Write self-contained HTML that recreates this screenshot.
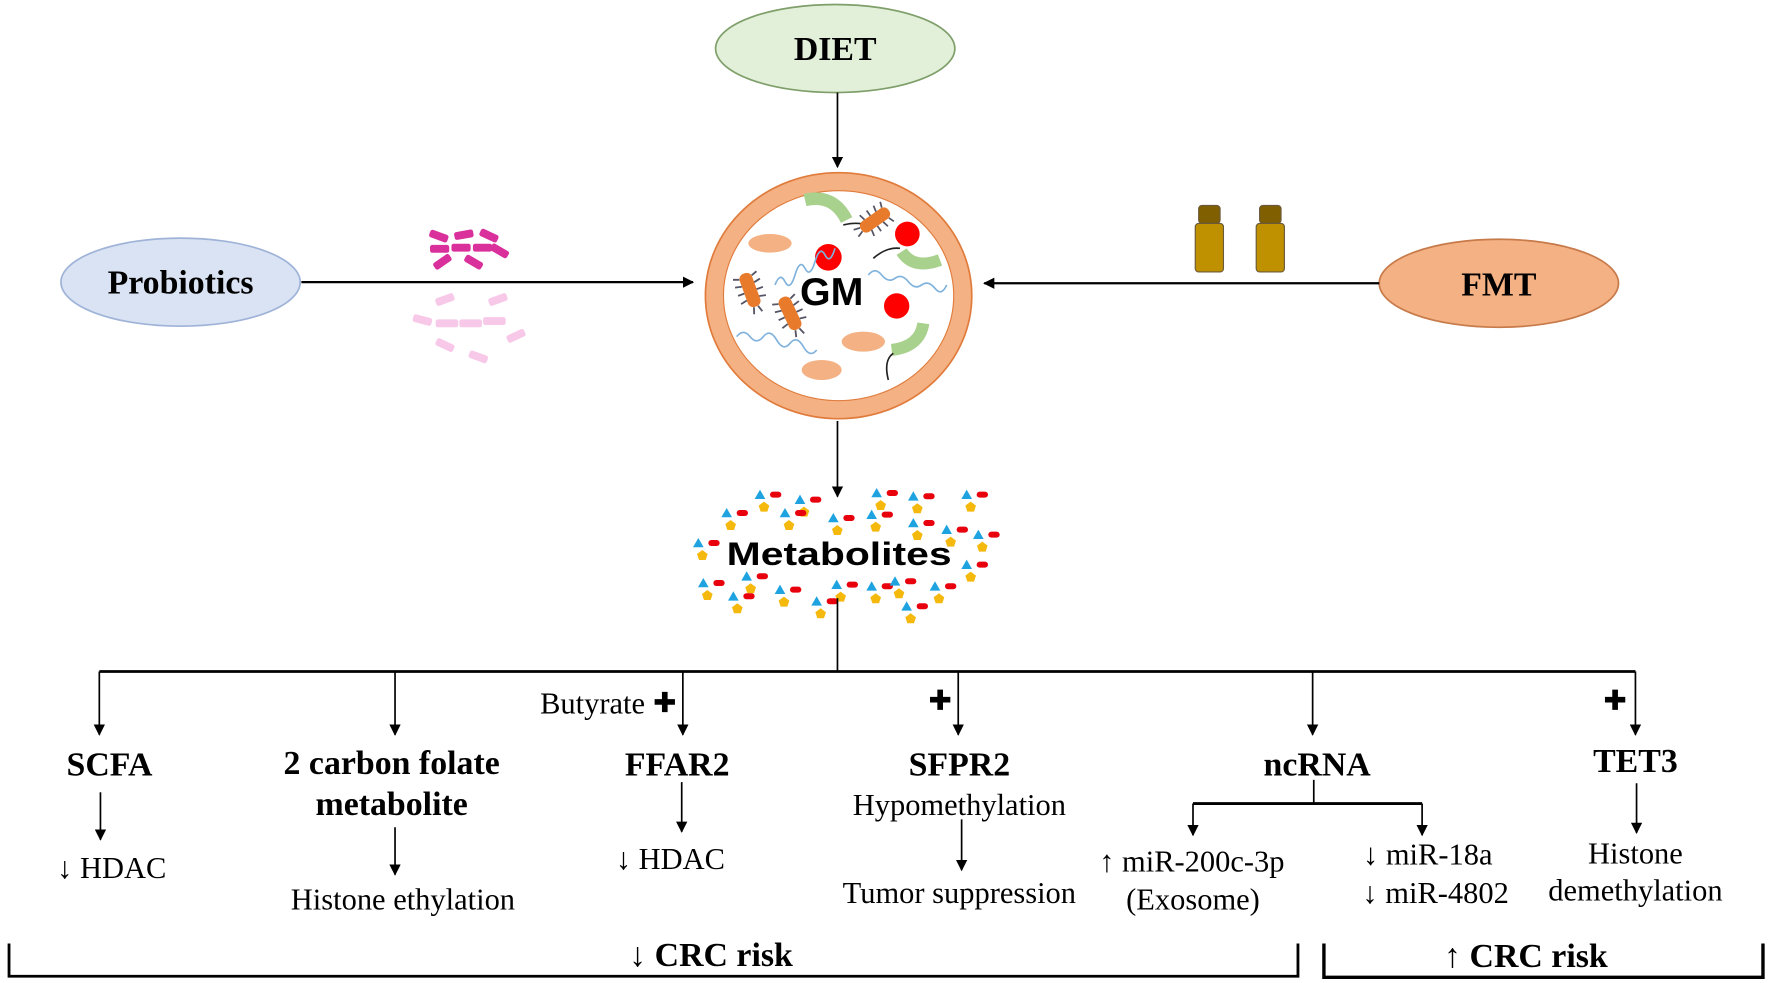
<!DOCTYPE html>
<html><head><meta charset="utf-8"><style>
html,body{margin:0;padding:0;background:#fff;}
svg{display:block;}
.b{font-family:"Liberation Serif",serif;font-weight:bold;font-size:30px;fill:#000;text-anchor:middle;}
.n{font-family:"Liberation Serif",serif;font-size:27px;fill:#000;text-anchor:middle;}
</style></head><body>
<svg width="1772" height="983" viewBox="0 0 1570 871" preserveAspectRatio="none" xmlns="http://www.w3.org/2000/svg">
<defs>
<marker id="ah" markerWidth="10" markerHeight="10" refX="9" refY="5" orient="auto" markerUnits="userSpaceOnUse">
<path d="M0,0 L10,5 L0,10 Z" fill="#000"/></marker>
<g id="bac">
<rect x="-9" y="-24" width="18" height="48" rx="8" fill="#e87a2c"/>
<path d="M-9,-18 l-8,-3 M-9,-8 l-9,-2 M-9,2 l-9,0 M-9,12 l-9,2 M9,-18 l8,-3 M9,-8 l9,-2 M9,2 l9,0 M9,12 l9,2 M-3,24 l-3,9 M3,24 l3,9" stroke="#556" stroke-width="2.5" fill="none"/>
</g>
<g id="cl">
<path d="M0,-16 L16,12 L-16,12 Z" fill="#1ea3e0"/>
<rect x="30" y="-10" width="34" height="18" rx="9" fill="#e8000d"/>
<path d="M12,20 L28,32 L22,50 L2,50 L-4,32 Z" fill="#f5b90e"/>
</g>
<path id="plus" d="M-2.5,-9 h5 v6.5 h6.5 v5 h-6.5 v6.5 h-5 v-6.5 h-6.5 v-5 h6.5 Z" fill="#000"/>
</defs>

<!-- DIET -->
<ellipse cx="740" cy="43" rx="106" ry="39" fill="#e2efd9" stroke="#7f9f6a" stroke-width="1.5"/>
<text class="b" x="740" y="53" font-size="29">DIET</text>
<line x1="742" y1="82" x2="742" y2="148" stroke="#000" stroke-width="1.5" marker-end="url(#ah)"/>

<!-- Probiotics -->
<ellipse cx="160" cy="250" rx="106" ry="39" fill="#dae3f3" stroke="#9fb3d8" stroke-width="1.5"/>
<text class="b" x="160" y="260" font-size="31">Probiotics</text>
<line x1="267" y1="250" x2="614" y2="250" stroke="#000" stroke-width="2" marker-end="url(#ah)"/>

<!-- FMT -->
<ellipse cx="1328" cy="251" rx="106" ry="39" fill="#f4b183" stroke="#c77a4a" stroke-width="1.5"/>
<text class="b" x="1328" y="262" font-size="31">FMT</text>
<line x1="1222" y1="251" x2="872" y2="251" stroke="#000" stroke-width="2" marker-end="url(#ah)"/>

<!-- vials -->
<g stroke="#6b5a3a" stroke-width="1">
<rect x="1062" y="182" width="19" height="16" rx="3" fill="#7f5f00"/>
<rect x="1059" y="198" width="25" height="43" rx="3" fill="#bf9000"/>
<rect x="1116" y="182" width="19" height="16" rx="3" fill="#7f5f00"/>
<rect x="1113" y="198" width="25" height="43" rx="3" fill="#bf9000"/>
</g>

<!-- probiotic rods -->
<g fill="#d9309b">
<rect x="0" y="0" width="17" height="7" rx="2" transform="translate(382,203) rotate(20)"/>
<rect x="0" y="0" width="17" height="7" rx="2" transform="translate(402,206) rotate(-10)"/>
<rect x="0" y="0" width="17" height="7" rx="2" transform="translate(427,202) rotate(25)"/>
<rect x="0" y="0" width="17" height="7" rx="2" transform="translate(381,217)"/>
<rect x="0" y="0" width="17" height="7" rx="2" transform="translate(400,216)"/>
<rect x="0" y="0" width="17" height="7" rx="2" transform="translate(419,216)"/>
<rect x="0" y="0" width="17" height="7" rx="2" transform="translate(437,215) rotate(30)"/>
<rect x="0" y="0" width="17" height="7" rx="2" transform="translate(383,234) rotate(-35)"/>
<rect x="0" y="0" width="17" height="7" rx="2" transform="translate(414,225) rotate(30)"/>
</g>
<g fill="#f7c8e8">
<rect x="0" y="0" width="17" height="7" rx="2" transform="translate(385,265) rotate(-20)"/>
<rect x="0" y="0" width="17" height="7" rx="2" transform="translate(432,265) rotate(-20)"/>
<rect x="0" y="0" width="17" height="7" rx="2" transform="translate(367,278) rotate(15)"/>
<rect x="0" y="0" width="20" height="7" rx="2" transform="translate(386,283)"/>
<rect x="0" y="0" width="20" height="7" rx="2" transform="translate(407,283)"/>
<rect x="0" y="0" width="20" height="7" rx="2" transform="translate(428,281)"/>
<rect x="0" y="0" width="17" height="7" rx="2" transform="translate(448,298) rotate(-25)"/>
<rect x="0" y="0" width="17" height="7" rx="2" transform="translate(388,299) rotate(25)"/>
<rect x="0" y="0" width="17" height="7" rx="2" transform="translate(417,310) rotate(20)"/>
</g>

<!-- GM circle -->
<ellipse cx="743" cy="262" rx="118" ry="109" fill="#f4b183" stroke="#e07b3c" stroke-width="1.5"/>
<ellipse cx="743" cy="262" rx="102" ry="93" fill="#fff" stroke="#e07b3c" stroke-width="1"/>

<g transform="scale(0.886) translate(600,140) scale(0.33333)">
<ellipse cx="510" cy="310" rx="65" ry="28" fill="#f4b183"/>
<ellipse cx="665" cy="690" rx="60" ry="30" fill="#f4b183"/>
<ellipse cx="790" cy="605" rx="65" ry="30" fill="#f4b183"/>
<circle cx="685" cy="352" r="40" fill="#ff0000"/>
<path d="M615,180 Q700,160 740,240" stroke="#a9d18e" stroke-width="38" fill="none"/>
<path d="M525,435 q15,-40 30,-10 t30,-20 t30,-20 t30,-20 t30,-20 t30,-20" stroke="#7fb2dc" stroke-width="5" fill="none"/>
<path d="M410,590 q20,-25 40,0 t40,0 t40,10 t40,10 t40,10 t40,10" stroke="#7fb2dc" stroke-width="5" fill="none"/>
<use href="#bac" transform="translate(450,450) rotate(-20) scale(2.2)"/>
<use href="#bac" transform="translate(570,520) rotate(-25) scale(2.2)"/>
<text x="600" y="495" font-family="Liberation Sans,sans-serif" font-weight="bold" font-size="118" fill="#000">GM</text>
</g>
<g transform="scale(0.886) translate(830,160) scale(0.33333)">
<circle cx="232" cy="222" r="37" fill="#ff0000"/>
<circle cx="200" cy="438" r="38" fill="#ff0000"/>
<path d="M215,275 Q250,330 330,300" stroke="#a9d18e" stroke-width="36" fill="none"/>
<path d="M185,570 Q270,560 280,490" stroke="#a9d18e" stroke-width="36" fill="none"/>
<path d="M130,295 Q170,260 210,265" stroke="#222" stroke-width="5" fill="none"/>
<path d="M175,660 Q160,600 190,580" stroke="#222" stroke-width="5" fill="none"/>
<path d="M40,195 Q80,185 110,195" stroke="#222" stroke-width="5" fill="none"/>
<path d="M115,345 q20,-25 40,0 t40,10 t40,10 t40,10 t40,10 t35,-10" stroke="#7fb2dc" stroke-width="5" fill="none"/>
<use href="#bac" transform="translate(135,180) rotate(55) scale(2.1)"/>
</g>

<line x1="742" y1="373" x2="742" y2="440" stroke="#000" stroke-width="1.5" marker-end="url(#ah)"/>

<!-- Metabolites -->
<g transform="scale(0.886) translate(680,480) scale(0.33333)">
<use href="#cl" x="240" y="45"/><use href="#cl" x="360" y="60"/><use href="#cl" x="140" y="100"/>
<use href="#cl" x="315" y="100"/><use href="#cl" x="460" y="115"/><use href="#cl" x="575" y="105"/>
<use href="#cl" x="590" y="40"/><use href="#cl" x="700" y="50"/><use href="#cl" x="860" y="45"/>
<use href="#cl" x="700" y="130"/><use href="#cl" x="800" y="150"/><use href="#cl" x="895" y="165"/>
<use href="#cl" x="55" y="190"/><use href="#cl" x="860" y="255"/><use href="#cl" x="70" y="310"/>
<use href="#cl" x="200" y="290"/><use href="#cl" x="160" y="350"/><use href="#cl" x="300" y="330"/>
<use href="#cl" x="410" y="365"/><use href="#cl" x="470" y="315"/><use href="#cl" x="575" y="320"/>
<use href="#cl" x="645" y="305"/><use href="#cl" x="680" y="380"/><use href="#cl" x="765" y="320"/>
<text x="140" y="255" font-family="Liberation Sans,sans-serif" font-weight="bold" font-size="98" textLength="675" lengthAdjust="spacingAndGlyphs" fill="#000">Metabolites</text>
</g>

<!-- tree -->
<g stroke="#000" stroke-width="1.5" fill="none">
<line x1="742" y1="530" x2="742" y2="595"/>
<line x1="88" y1="595" x2="1449" y2="595" stroke-width="2.5"/>
<line x1="88" y1="595" x2="88" y2="651" marker-end="url(#ah)"/>
<line x1="350" y1="595" x2="350" y2="651" marker-end="url(#ah)"/>
<line x1="605" y1="595" x2="605" y2="651" marker-end="url(#ah)"/>
<line x1="849" y1="595" x2="849" y2="651" marker-end="url(#ah)"/>
<line x1="1163" y1="595" x2="1163" y2="651" marker-end="url(#ah)"/>
<line x1="1449" y1="595" x2="1449" y2="651" marker-end="url(#ah)"/>
<line x1="89" y1="702" x2="89" y2="744" marker-end="url(#ah)"/>
<line x1="350" y1="733" x2="350" y2="775" marker-end="url(#ah)"/>
<line x1="604" y1="693" x2="604" y2="737" marker-end="url(#ah)"/>
<line x1="852" y1="726" x2="852" y2="771" marker-end="url(#ah)"/>
<line x1="1164" y1="691" x2="1164" y2="712"/>
<line x1="1057" y1="712" x2="1260" y2="712" stroke-width="2.5"/>
<line x1="1057" y1="712" x2="1057" y2="740" marker-end="url(#ah)"/>
<line x1="1260" y1="712" x2="1260" y2="740" marker-end="url(#ah)"/>
<line x1="1450" y1="694" x2="1450" y2="738" marker-end="url(#ah)"/>
<path d="M8,836 L8,865 L1150,865 L1150,836" stroke-width="2.5"/>
<path d="M1173,836 L1173,866 L1562,866 L1562,836" stroke-width="3"/>
</g>

<text class="b" x="97" y="687">SCFA</text>
<text class="b" x="347" y="686">2 carbon folate</text>
<text class="b" x="347" y="722">metabolite</text>
<text class="b" x="600" y="687">FFAR2</text>
<text class="b" x="850" y="687">SFPR2</text>
<text class="b" x="1167" y="687">ncRNA</text>
<text class="b" x="1449" y="684">TET3</text>

<text class="n" x="525" y="632">Butyrate</text>
<use href="#plus" x="589" y="622"/>
<use href="#plus" x="833" y="620"/>
<use href="#plus" x="1431" y="620"/>

<text class="n" x="99" y="778">↓ HDAC</text>
<text class="n" x="357" y="806">Histone ethylation</text>
<text class="n" x="594" y="770">↓ HDAC</text>
<text class="n" x="850" y="722">Hypomethylation</text>
<text class="n" x="850" y="800">Tumor suppression</text>
<text class="n" x="1056" y="772">↑ miR-200c-3p</text>
<text class="n" x="1057" y="806">(Exosome)</text>
<text class="n" x="1265" y="766">↓ miR-18a</text>
<text class="n" x="1272" y="800">↓ miR-4802</text>
<text class="n" x="1449" y="765">Histone</text>
<text class="n" x="1449" y="798">demethylation</text>

<text class="b" x="630" y="856" font-size="27">↓ CRC risk</text>
<text class="b" x="1352" y="857" font-size="27">↑ CRC risk</text>
</svg>
</body></html>
